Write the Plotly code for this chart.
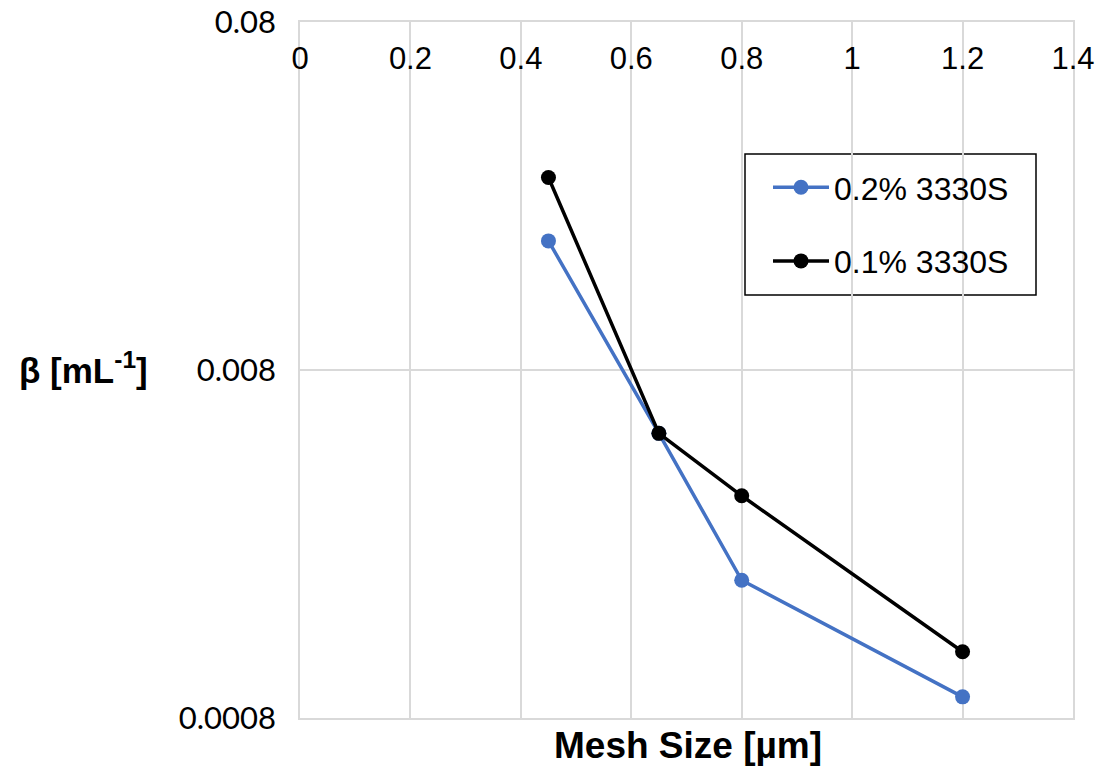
import plotly.graph_objects as go

# Mesh size [µm] and beta [mL^-1] for two surfactant concentrations
mesh_size = [0.45, 0.65, 0.8, 1.2]
beta_02 = [0.0188, 0.00526, 0.00199, 0.00092]
beta_01 = [0.0286, 0.00526, 0.00348, 0.00124]

x_ticks = [0, 0.2, 0.4, 0.6, 0.8, 1, 1.2, 1.4]
x_tick_text = ["0", "0.2", "0.4", "0.6", "0.8", "1", "1.2", "1.4"]
y_ticks = [0.0008, 0.008, 0.08]
y_tick_text = ["0.0008", "0.008", "0.08"]

BLUE = "#4472C4"
GRID = "#d9d9d9"
ARIAL = "Liberation Sans, Arial, sans-serif"

# plot area in pixels
L, R, T, B = 300, 1073, 22, 718
W, H = R - L, B - T


def px(x):
    return (x - L) / W


def py(y):
    return (B - y) / H


fig = go.Figure()
fig.add_trace(go.Scatter(
    x=mesh_size, y=beta_02, name="0.2% 3330S", mode="lines+markers",
    line=dict(color=BLUE, width=3.5), marker=dict(color=BLUE, size=15),
    legendgroup="a",
))
fig.add_trace(go.Scatter(
    x=mesh_size, y=beta_01, name="0.1% 3330S", mode="lines+markers",
    line=dict(color="black", width=3.5), marker=dict(color="black", size=15),
    legendgroup="b",
))

fig.update_layout(
    width=1102, height=768,
    margin=dict(l=L, r=1102 - R, t=T, b=768 - B, autoexpand=False),
    paper_bgcolor="white", plot_bgcolor="white",
    font=dict(family=ARIAL, color="black"),
    showlegend=True,
    legend=dict(
        x=px(768), y=py(160), xanchor="left", yanchor="top",
        borderwidth=0, bgcolor="rgba(0,0,0,0)",
        font=dict(size=32, family=ARIAL, color="black"),
        tracegroupgap=29, itemwidth=56,
    ),
    xaxis=dict(
        range=[0, 1.4], side="top", tickvals=x_ticks, ticktext=x_tick_text,
        ticklabelposition="inside", ticklabeloverflow="allow",
        ticks="", ticklabelstandoff=29, automargin=False,
        showgrid=True, gridcolor=GRID, gridwidth=1.5,
        showline=True, mirror=True, linecolor=GRID, linewidth=1.5,
        zeroline=False,
        tickfont=dict(size=31, family=ARIAL, color="black"),
    ),
    yaxis=dict(
        type="log", range=[-3.0970, -1.0968],
        tickvals=y_ticks, ticktext=y_tick_text, ticks="",
        ticklabelstandoff=16, ticklabeloverflow="allow", automargin=False,
        showgrid=True, gridcolor=GRID, gridwidth=1.5,
        showline=True, mirror=True, linecolor=GRID, linewidth=1.5,
        zeroline=False,
        tickfont=dict(size=31, family="Lato, Carlito, sans-serif", color="black"),
    ),
)

# legend frame
fig.add_shape(
    type="rect", xref="paper", yref="paper",
    x0=px(745), x1=px(1036), y0=py(295), y1=py(154),
    line=dict(color="black", width=1.5), fillcolor="white", layer="below",
)

fig.add_annotation(
    text="<b>β [mL<sup>-1</sup>]</b>", xref="paper", yref="paper",
    x=px(17), y=py(368), xanchor="left", yanchor="middle",
    showarrow=False, font=dict(size=35, family=ARIAL, color="black"),
)
fig.add_annotation(
    text="<b>Mesh Size [µm]</b>", xref="paper", yref="paper",
    x=px(688), y=py(745), xanchor="center", yanchor="middle",
    showarrow=False, font=dict(size=37, family=ARIAL, color="black"),
)

fig.write_html("out.html")
